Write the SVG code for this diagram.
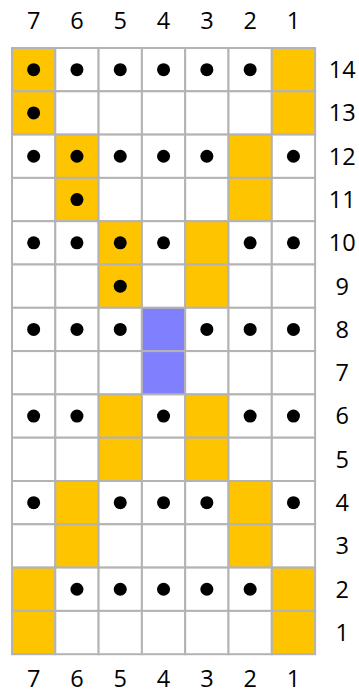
<svg xmlns="http://www.w3.org/2000/svg" width="359" height="689" viewBox="0 0 359 689">
<defs>
<style>
.c{fill:#ffffff;stroke:#b3b3b3;stroke-width:2}
.o{fill:#ffc400;stroke:#b3b3b3;stroke-width:2}
.b{fill:#8080ff;stroke:#b3b3b3;stroke-width:2}
.d{fill:#000000}
text{font-family:"Open Sans","Noto Sans",sans-serif;font-size:23.5px;fill:#000000;text-anchor:middle}
</style>
</defs>
<rect width="359" height="689" fill="#ffffff"/>
<g id="grid">
<g id="r14">
<rect class="o" x="12" y="48" width="43.3" height="43.3"/><rect class="c" x="55.3" y="48" width="43.3" height="43.3"/><rect class="c" x="98.6" y="48" width="43.3" height="43.3"/><rect class="c" x="141.9" y="48" width="43.3" height="43.3"/><rect class="c" x="185.2" y="48" width="43.3" height="43.3"/><rect class="c" x="228.5" y="48" width="43.3" height="43.3"/><rect class="o" x="271.8" y="48" width="43.3" height="43.3"/>
</g>
<g id="r13">
<rect class="o" x="12" y="91.3" width="43.3" height="43.3"/><rect class="c" x="55.3" y="91.3" width="43.3" height="43.3"/><rect class="c" x="98.6" y="91.3" width="43.3" height="43.3"/><rect class="c" x="141.9" y="91.3" width="43.3" height="43.3"/><rect class="c" x="185.2" y="91.3" width="43.3" height="43.3"/><rect class="c" x="228.5" y="91.3" width="43.3" height="43.3"/><rect class="o" x="271.8" y="91.3" width="43.3" height="43.3"/>
</g>
<g id="r12">
<rect class="c" x="12" y="134.6" width="43.3" height="43.3"/><rect class="o" x="55.3" y="134.6" width="43.3" height="43.3"/><rect class="c" x="98.6" y="134.6" width="43.3" height="43.3"/><rect class="c" x="141.9" y="134.6" width="43.3" height="43.3"/><rect class="c" x="185.2" y="134.6" width="43.3" height="43.3"/><rect class="o" x="228.5" y="134.6" width="43.3" height="43.3"/><rect class="c" x="271.8" y="134.6" width="43.3" height="43.3"/>
</g>
<g id="r11">
<rect class="c" x="12" y="177.9" width="43.3" height="43.3"/><rect class="o" x="55.3" y="177.9" width="43.3" height="43.3"/><rect class="c" x="98.6" y="177.9" width="43.3" height="43.3"/><rect class="c" x="141.9" y="177.9" width="43.3" height="43.3"/><rect class="c" x="185.2" y="177.9" width="43.3" height="43.3"/><rect class="o" x="228.5" y="177.9" width="43.3" height="43.3"/><rect class="c" x="271.8" y="177.9" width="43.3" height="43.3"/>
</g>
<g id="r10">
<rect class="c" x="12" y="221.2" width="43.3" height="43.3"/><rect class="c" x="55.3" y="221.2" width="43.3" height="43.3"/><rect class="o" x="98.6" y="221.2" width="43.3" height="43.3"/><rect class="c" x="141.9" y="221.2" width="43.3" height="43.3"/><rect class="o" x="185.2" y="221.2" width="43.3" height="43.3"/><rect class="c" x="228.5" y="221.2" width="43.3" height="43.3"/><rect class="c" x="271.8" y="221.2" width="43.3" height="43.3"/>
</g>
<g id="r9">
<rect class="c" x="12" y="264.5" width="43.3" height="43.3"/><rect class="c" x="55.3" y="264.5" width="43.3" height="43.3"/><rect class="o" x="98.6" y="264.5" width="43.3" height="43.3"/><rect class="c" x="141.9" y="264.5" width="43.3" height="43.3"/><rect class="o" x="185.2" y="264.5" width="43.3" height="43.3"/><rect class="c" x="228.5" y="264.5" width="43.3" height="43.3"/><rect class="c" x="271.8" y="264.5" width="43.3" height="43.3"/>
</g>
<g id="r8">
<rect class="c" x="12" y="307.8" width="43.3" height="43.3"/><rect class="c" x="55.3" y="307.8" width="43.3" height="43.3"/><rect class="c" x="98.6" y="307.8" width="43.3" height="43.3"/><rect class="b" x="141.9" y="307.8" width="43.3" height="43.3"/><rect class="c" x="185.2" y="307.8" width="43.3" height="43.3"/><rect class="c" x="228.5" y="307.8" width="43.3" height="43.3"/><rect class="c" x="271.8" y="307.8" width="43.3" height="43.3"/>
</g>
<g id="r7">
<rect class="c" x="12" y="351.1" width="43.3" height="43.3"/><rect class="c" x="55.3" y="351.1" width="43.3" height="43.3"/><rect class="c" x="98.6" y="351.1" width="43.3" height="43.3"/><rect class="b" x="141.9" y="351.1" width="43.3" height="43.3"/><rect class="c" x="185.2" y="351.1" width="43.3" height="43.3"/><rect class="c" x="228.5" y="351.1" width="43.3" height="43.3"/><rect class="c" x="271.8" y="351.1" width="43.3" height="43.3"/>
</g>
<g id="r6">
<rect class="c" x="12" y="394.4" width="43.3" height="43.3"/><rect class="c" x="55.3" y="394.4" width="43.3" height="43.3"/><rect class="o" x="98.6" y="394.4" width="43.3" height="43.3"/><rect class="c" x="141.9" y="394.4" width="43.3" height="43.3"/><rect class="o" x="185.2" y="394.4" width="43.3" height="43.3"/><rect class="c" x="228.5" y="394.4" width="43.3" height="43.3"/><rect class="c" x="271.8" y="394.4" width="43.3" height="43.3"/>
</g>
<g id="r5">
<rect class="c" x="12" y="437.7" width="43.3" height="43.3"/><rect class="c" x="55.3" y="437.7" width="43.3" height="43.3"/><rect class="o" x="98.6" y="437.7" width="43.3" height="43.3"/><rect class="c" x="141.9" y="437.7" width="43.3" height="43.3"/><rect class="o" x="185.2" y="437.7" width="43.3" height="43.3"/><rect class="c" x="228.5" y="437.7" width="43.3" height="43.3"/><rect class="c" x="271.8" y="437.7" width="43.3" height="43.3"/>
</g>
<g id="r4">
<rect class="c" x="12" y="481" width="43.3" height="43.3"/><rect class="o" x="55.3" y="481" width="43.3" height="43.3"/><rect class="c" x="98.6" y="481" width="43.3" height="43.3"/><rect class="c" x="141.9" y="481" width="43.3" height="43.3"/><rect class="c" x="185.2" y="481" width="43.3" height="43.3"/><rect class="o" x="228.5" y="481" width="43.3" height="43.3"/><rect class="c" x="271.8" y="481" width="43.3" height="43.3"/>
</g>
<g id="r3">
<rect class="c" x="12" y="524.3" width="43.3" height="43.3"/><rect class="o" x="55.3" y="524.3" width="43.3" height="43.3"/><rect class="c" x="98.6" y="524.3" width="43.3" height="43.3"/><rect class="c" x="141.9" y="524.3" width="43.3" height="43.3"/><rect class="c" x="185.2" y="524.3" width="43.3" height="43.3"/><rect class="o" x="228.5" y="524.3" width="43.3" height="43.3"/><rect class="c" x="271.8" y="524.3" width="43.3" height="43.3"/>
</g>
<g id="r2">
<rect class="o" x="12" y="567.6" width="43.3" height="43.3"/><rect class="c" x="55.3" y="567.6" width="43.3" height="43.3"/><rect class="c" x="98.6" y="567.6" width="43.3" height="43.3"/><rect class="c" x="141.9" y="567.6" width="43.3" height="43.3"/><rect class="c" x="185.2" y="567.6" width="43.3" height="43.3"/><rect class="c" x="228.5" y="567.6" width="43.3" height="43.3"/><rect class="o" x="271.8" y="567.6" width="43.3" height="43.3"/>
</g>
<g id="r1">
<rect class="o" x="12" y="610.9" width="43.3" height="43.3"/><rect class="c" x="55.3" y="610.9" width="43.3" height="43.3"/><rect class="c" x="98.6" y="610.9" width="43.3" height="43.3"/><rect class="c" x="141.9" y="610.9" width="43.3" height="43.3"/><rect class="c" x="185.2" y="610.9" width="43.3" height="43.3"/><rect class="c" x="228.5" y="610.9" width="43.3" height="43.3"/><rect class="o" x="271.8" y="610.9" width="43.3" height="43.3"/>
</g>
</g>
<g id="dots">
<circle class="d" cx="33.65" cy="69.65" r="6.5"/><circle class="d" cx="76.95" cy="69.65" r="6.5"/><circle class="d" cx="120.25" cy="69.65" r="6.5"/><circle class="d" cx="163.55" cy="69.65" r="6.5"/><circle class="d" cx="206.85" cy="69.65" r="6.5"/><circle class="d" cx="250.15" cy="69.65" r="6.5"/>
<circle class="d" cx="33.65" cy="112.95" r="6.5"/>
<circle class="d" cx="33.65" cy="156.25" r="6.5"/><circle class="d" cx="76.95" cy="156.25" r="6.5"/><circle class="d" cx="120.25" cy="156.25" r="6.5"/><circle class="d" cx="163.55" cy="156.25" r="6.5"/><circle class="d" cx="206.85" cy="156.25" r="6.5"/><circle class="d" cx="293.45" cy="156.25" r="6.5"/>
<circle class="d" cx="76.95" cy="199.55" r="6.5"/>
<circle class="d" cx="33.65" cy="242.85" r="6.5"/><circle class="d" cx="76.95" cy="242.85" r="6.5"/><circle class="d" cx="120.25" cy="242.85" r="6.5"/><circle class="d" cx="163.55" cy="242.85" r="6.5"/><circle class="d" cx="250.15" cy="242.85" r="6.5"/><circle class="d" cx="293.45" cy="242.85" r="6.5"/>
<circle class="d" cx="120.25" cy="286.15" r="6.5"/>
<circle class="d" cx="33.65" cy="329.45" r="6.5"/><circle class="d" cx="76.95" cy="329.45" r="6.5"/><circle class="d" cx="120.25" cy="329.45" r="6.5"/><circle class="d" cx="206.85" cy="329.45" r="6.5"/><circle class="d" cx="250.15" cy="329.45" r="6.5"/><circle class="d" cx="293.45" cy="329.45" r="6.5"/>
<circle class="d" cx="33.65" cy="416.05" r="6.5"/><circle class="d" cx="76.95" cy="416.05" r="6.5"/><circle class="d" cx="163.55" cy="416.05" r="6.5"/><circle class="d" cx="250.15" cy="416.05" r="6.5"/><circle class="d" cx="293.45" cy="416.05" r="6.5"/>
<circle class="d" cx="33.65" cy="502.65" r="6.5"/><circle class="d" cx="120.25" cy="502.65" r="6.5"/><circle class="d" cx="163.55" cy="502.65" r="6.5"/><circle class="d" cx="206.85" cy="502.65" r="6.5"/><circle class="d" cx="293.45" cy="502.65" r="6.5"/>
<circle class="d" cx="76.95" cy="589.25" r="6.5"/><circle class="d" cx="120.25" cy="589.25" r="6.5"/><circle class="d" cx="163.55" cy="589.25" r="6.5"/><circle class="d" cx="206.85" cy="589.25" r="6.5"/><circle class="d" cx="250.15" cy="589.25" r="6.5"/>
</g>
<g id="top-labels">
<text x="33.65" y="29">7</text><text x="76.95" y="29">6</text><text x="120.25" y="29">5</text><text x="163.55" y="29">4</text><text x="206.85" y="29">3</text><text x="250.15" y="29">2</text><text x="293.45" y="29">1</text>
</g>
<g id="bottom-labels">
<text x="33.65" y="686.5">7</text><text x="76.95" y="686.5">6</text><text x="120.25" y="686.5">5</text><text x="163.55" y="686.5">4</text><text x="206.85" y="686.5">3</text><text x="250.15" y="686.5">2</text><text x="293.45" y="686.5">1</text>
</g>
<g id="right-labels">
<text x="342.3" y="78">14</text><text x="342.3" y="121.3">13</text><text x="342.3" y="164.6">12</text><text x="342.3" y="207.9">11</text><text x="342.3" y="251.2">10</text><text x="342.3" y="294.5">9</text><text x="342.3" y="337.8">8</text><text x="342.3" y="381.1">7</text><text x="342.3" y="424.4">6</text><text x="342.3" y="467.7">5</text><text x="342.3" y="511">4</text><text x="342.3" y="554.3">3</text><text x="342.3" y="597.6">2</text><text x="342.3" y="640.9">1</text>
</g>
</svg>
